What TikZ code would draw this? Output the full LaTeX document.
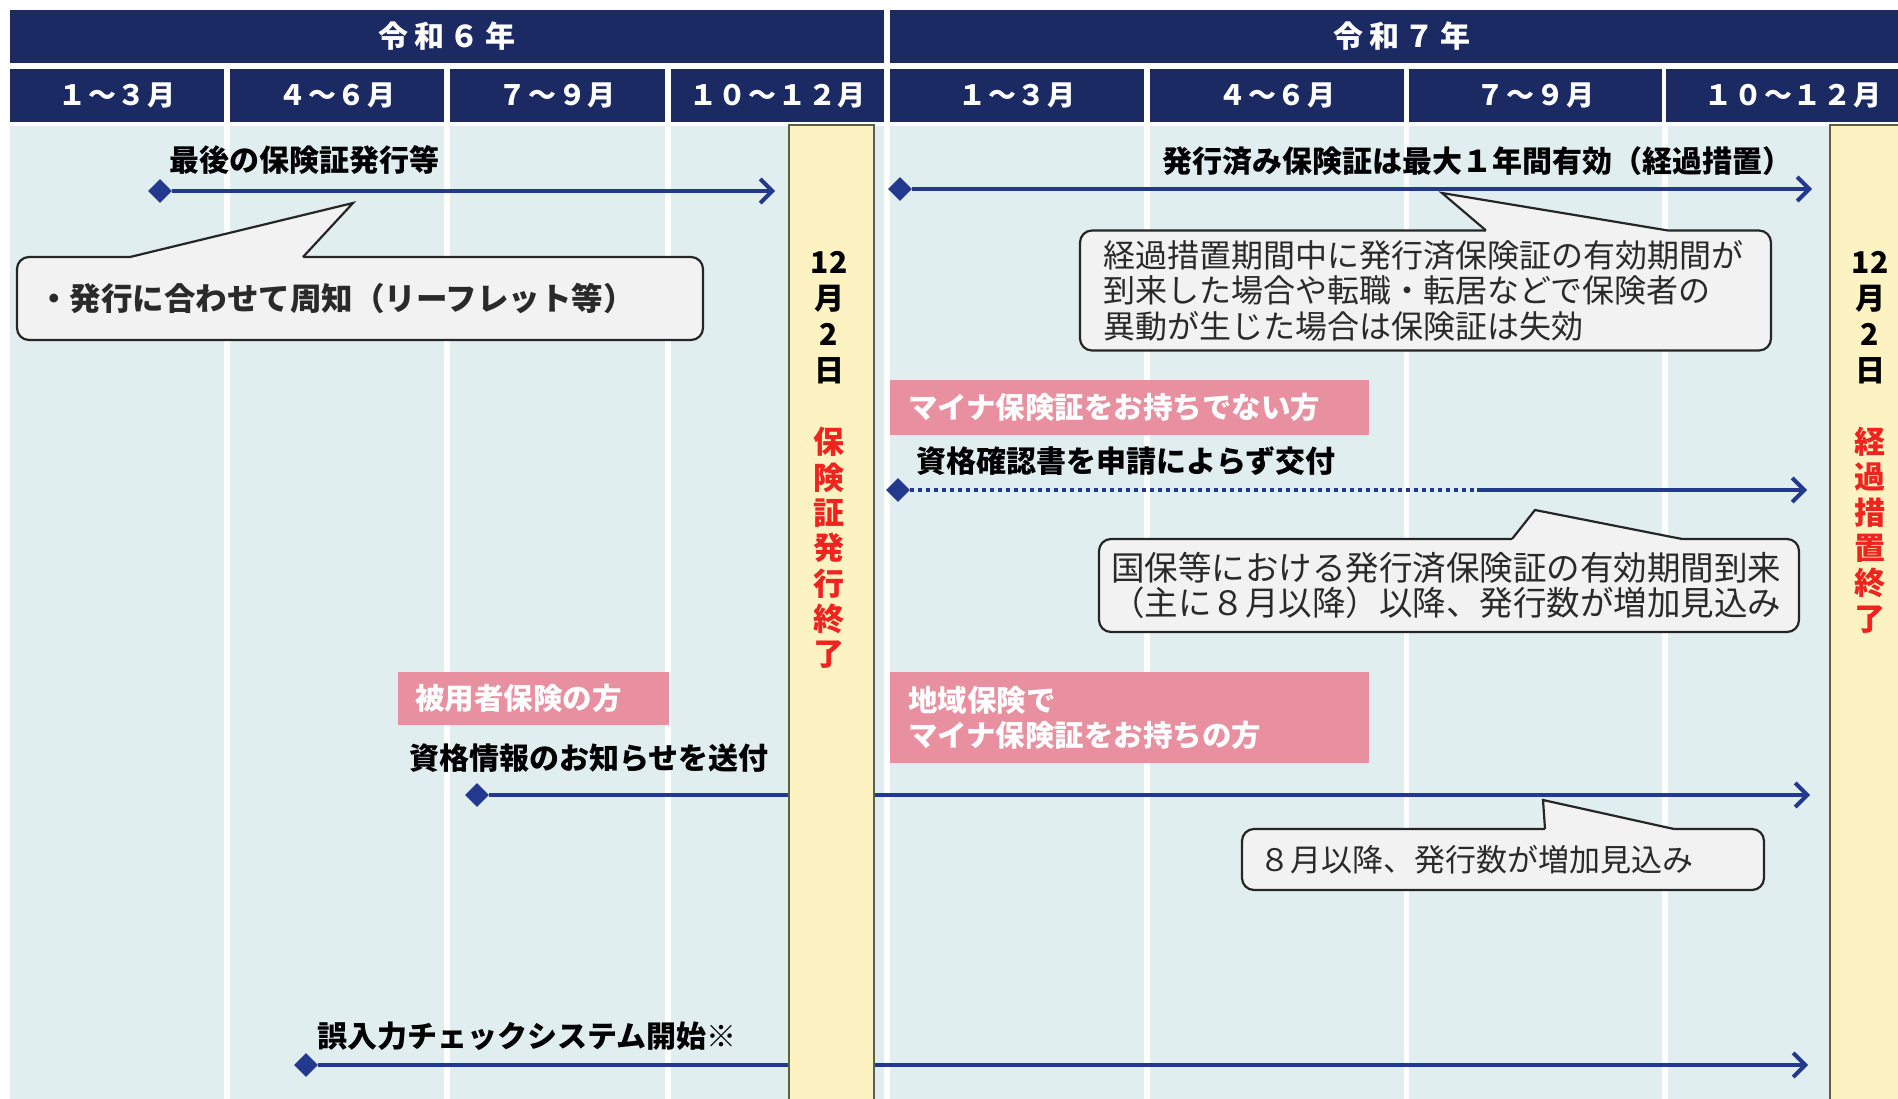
\documentclass[tikz,border=0pt]{standalone}
\usepackage{fontspec}
\usetikzlibrary{arrows.meta,shapes.geometric}
\newfontfamily\jp{Noto Sans CJK JP}
\newfontfamily\jphd{Noto Sans CJK JP}[LetterSpace=6]
\newfontfamily\jpyr{Noto Sans CJK JP}[LetterSpace=18]
\definecolor{hdnavy}{HTML}{1B2A63}
\definecolor{bodybg}{HTML}{E0EEF0}
\definecolor{arrblue}{HTML}{22398E}
\definecolor{bandy}{HTML}{FDF3C2}
\definecolor{bandedge}{HTML}{5E5E4A}
\definecolor{pinkbox}{HTML}{E8909F}
\definecolor{callfill}{HTML}{F2F2F2}
\definecolor{callline}{HTML}{262626}
\definecolor{calltext}{HTML}{2A2A2A}
\definecolor{redtxt}{HTML}{F0231E}
\newcommand\calltail[4]{%
  \fill[callfill] (#1,#3+3) -- (#1,#3) -- (#4) -- (#2,#3) -- (#2,#3+3) -- cycle;
  \draw[callline, line width=2.2pt, line join=miter] (#1,#3) -- (#4) -- (#2,#3);}
\tikzset{
  hdcell/.style={fill=hdnavy, text=white, inner sep=0},
  yrcell/.style={hdcell, font=\jpyr\bfseries\fontsize{30}{34}\selectfont},
  mocell/.style={hdcell, font=\jphd\bfseries\fontsize{28}{32}\selectfont},
  lbl/.style={inner sep=0, anchor=west, text=black, font=\jp\bfseries\fontsize{30}{34}\selectfont},
  pinklbl/.style={fill=pinkbox, text=white, inner sep=0, align=left, font=\jp\bfseries\fontsize{29.5}{35}\selectfont},
  callbox/.style={draw=callline, fill=callfill, line width=2.2pt, rounded corners=12pt, inner sep=0, text=calltext, align=left},
  startmark/.style={diamond, fill=arrblue, minimum width=24pt, minimum height=24pt, inner sep=0},
  arrowline/.style={draw=arrblue, line width=4pt, -{Straight Barb[length=12pt,width=24pt]}},
  dotline/.style={draw=arrblue, line width=4pt, dash pattern=on 4pt off 4pt},
  bandtxt/.style={inner sep=0, align=center, text=black, font=\jp\bfseries\fontsize{30}{36}\selectfont},
  bandred/.style={inner sep=0, align=center, text=redtxt, font=\jp\bfseries\fontsize{31}{35.3}\selectfont},
  bandfill/.style={fill=bandy, draw=bandedge, line width=2pt}
}
\begin{document}
\begin{tikzpicture}[x=1pt,y=-1pt]
\useasboundingbox (0,0) rectangle (1898,1098);
\clip (0,0) rectangle (1898,1098);
\fill[white] (0,0) rectangle (1898,1098);
% body columns
\foreach \a/\b in {10/224,230/444,450/665,671/884,890/1144,1150/1404,1409/1662,1668/1922}
  \fill[bodybg] (\a,126) rectangle (\b,1110);
% header
\node[yrcell, minimum width=874pt, minimum height=53pt] (y6) at (447,36.5) {\raisebox{2pt}{令和６年}};
\node[yrcell, minimum width=1024pt, minimum height=53pt] (y7) at (1402,36.5) {\raisebox{2pt}{令和７年}};
\node[mocell, minimum width=214pt, minimum height=53pt] (m1) at (117,95.5) {１～３月};
\node[mocell, minimum width=214pt, minimum height=53pt] (m2) at (337,95.5) {４～６月};
\node[mocell, minimum width=215pt, minimum height=53pt] (m3) at (557.5,95.5) {７～９月};
\node[mocell, minimum width=213pt, minimum height=53pt] (m4) at (777.5,95.5) {１０～１２月};
\node[mocell, minimum width=254pt, minimum height=53pt] (m5) at (1017,95.5) {１～３月};
\node[mocell, minimum width=254pt, minimum height=53pt] (m6) at (1277,95.5) {４～６月};
\node[mocell, minimum width=253pt, minimum height=53pt] (m7) at (1535.5,95.5) {７～９月};
\node[mocell, minimum width=254pt, minimum height=53pt] (m8) at (1793,95.5) {１０～１２月};

% arrows passing behind band 1
\node[startmark] (d4) at (477,795) {};
\coordinate (e4) at (1810,795);
\draw[arrowline] (d4.east) -- (e4);
\node[startmark] (d5) at (306,1065) {};
\coordinate (e5) at (1808,1065);
\draw[arrowline] (d5.east) -- (e5);

% yellow bands
\draw[bandfill] (789,125) rectangle (874,1110);
\draw[bandfill] (1830,125) rectangle (1912,1110);
\node[bandtxt] (b1d) at (829,318) {12\\月\\2\\日};
\node[bandred] (b1r) at (829,548) {保\\険\\証\\発\\行\\終\\了};
\node[bandtxt] (b2d) at (1870,318) {12\\月\\2\\日};
\node[bandred] (b2r) at (1870,530) {経\\過\\措\\置\\終\\了};

% arrow 1
\node[lbl] (l1) at (169,160) {最後の保険証発行等};
\node[startmark] (d1) at (160,191) {};
\coordinate (e1) at (775,191);
\draw[arrowline] (d1.east) -- (e1);
\node[callbox, minimum width=686pt, minimum height=83pt, text width=644pt, font=\jp\bfseries\fontsize{31.5}{35}\selectfont] (c1) at (360,298.5) {・発行に合わせて周知（リーフレット等）};
\coordinate (t1) at (353,203);
\calltail{130}{303}{257}{t1}

% arrow 2
\node[lbl] (l2) at (1162,161) {発行済み保険証は最大１年間有効（経過措置）};
\node[startmark] (d2) at (900,189) {};
\coordinate (e2) at (1812,189);
\draw[arrowline] (d2.east) -- (e2);
\node[callbox, minimum width=691pt, minimum height=120pt, text width=645pt, font=\jp\fontsize{32}{35.5}\selectfont] (c2) at (1425.5,290.5) {経過措置期間中に発行済保険証の有効期間が\\到来した場合や転職・転居などで保険者の\\異動が生じた場合は保険証は失効};
\coordinate (t2) at (1442,193);
\calltail{1486}{1668}{230.5}{t2}

% arrow 3
\node[pinklbl, minimum width=479pt, minimum height=55pt, text width=443pt] (p1) at (1129.5,407.5) {マイナ保険証をお持ちでない方};
\node[lbl] (l3) at (916,461) {資格確認書を申請によらず交付};
\node[startmark] (d3) at (898,490) {};
\coordinate (m3a) at (1477,490);
\coordinate (e3) at (1807,490);
\draw[dotline] (d3.east) -- (m3a);
\draw[arrowline] (m3a) -- (e3);
\node[callbox, minimum width=700pt, minimum height=93pt, text width=676pt, font=\jp\fontsize{33.5}{35}\selectfont] (c3) at (1449,585.5) {国保等における発行済保険証の有効期間到来\\（主に８月以降）以降、発行数が増加見込み};
\coordinate (t3) at (1535,510);
\calltail{1512}{1682}{539}{t3}

% arrow 4 labels
\node[pinklbl, minimum width=271pt, minimum height=53pt, text width=237pt] (p2) at (533.5,698.5) {被用者保険の方};
\node[pinklbl, minimum width=479pt, minimum height=91pt, text width=443pt] (p3) at (1129.5,717.5) {地域保険で\\マイナ保険証をお持ちの方};
\node[lbl] (l4) at (409,758) {資格情報のお知らせを送付};
\node[callbox, minimum width=522pt, minimum height=61pt, text width=488pt, font=\jp\fontsize{31}{35}\selectfont] (c4) at (1503,859.5) {８月以降、発行数が増加見込み};
\coordinate (t4) at (1543,800);
\calltail{1545}{1674}{829}{t4}

% arrow 5 label
\node[lbl] (l5) at (317,1036) {誤入力チェックシステム開始※};
\end{tikzpicture}
\end{document}
